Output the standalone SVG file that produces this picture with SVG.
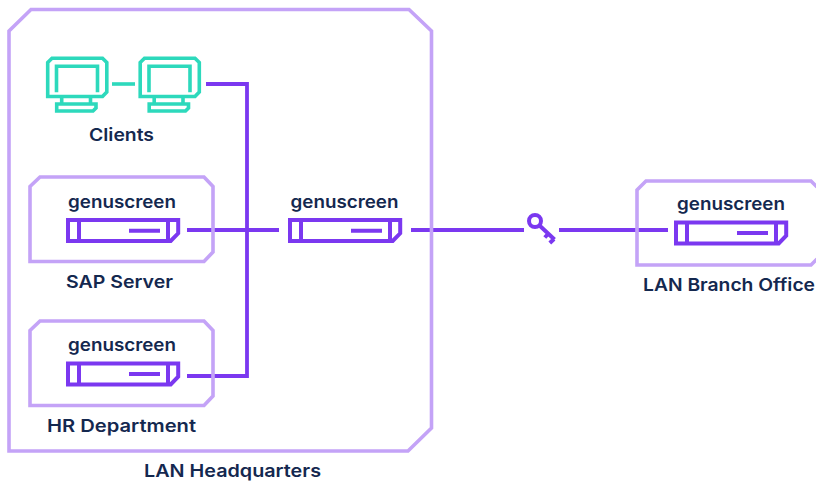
<svg xmlns="http://www.w3.org/2000/svg" xmlns:xlink="http://www.w3.org/1999/xlink" width="816" height="484" viewBox="0 0 816 484">
<style>
text{font-family:"Inter","Liberation Sans",sans-serif;font-weight:600;fill:#14284f;font-size:17.5px;text-anchor:middle}
.box{fill:none;stroke:#c4a3f7;stroke-width:3.6}
.dev{fill:none;stroke:#7b38f0;stroke-width:4}
.link{fill:none;stroke:#7b38f0;stroke-width:3.8}
.mon{fill:none;stroke:#2dd9bc;stroke-width:3.6}
</style>
<defs>
<g id="device">
<path class="dev" d="M1.300 0.700H111.500V14L104 21.700H1.300Z"/>
<path class="dev" d="M12.300 0.700V21.700M101.300 0.700V21.700M62.300 11.400H93.300"/>
</g>
<g id="monitor">
<path class="mon" d="M1.700 6L6 1.700H56.500L60.800 6V35.500L56.500 40H1.700Z"/>
<path class="mon" d="M10.500 35.700V9.700H51.500V35.700"/>
<path class="mon" d="M15.700 40V47.500M44.500 40V47.500"/>
<path class="mon" d="M10.700 47.500H50V51.500L47 54.500H10.700Z"/>
</g>
</defs>
<rect width="816" height="484" fill="#fff"/>
<g id="connectors">
<path class="mon" d="M112 84H135"/>
<path class="link" d="M206 84H247V376H187"/>
<path class="link" d="M187 230H279"/>
<path class="link" d="M411 230H524"/>
<path class="link" d="M559 230H668"/>
</g>
<g id="hq"><path class="box" d="M31 9.500H409L431.500 31V428L408 451H9V31Z"/><text x="232.500" y="476.500" textLength="177" lengthAdjust="spacingAndGlyphs">LAN Headquarters</text></g>
<g id="clients">
<use xlink:href="#monitor" x="46" y="56.500"/>
<use xlink:href="#monitor" x="138.500" y="56.500"/>
<text x="121.500" y="140.500" textLength="65" lengthAdjust="spacingAndGlyphs">Clients</text>
</g>
<g id="sap"><path class="box" d="M40 177H204L213 186.500V252L204 261.500H30V186.500Z"/><text x="122" y="207.500" textLength="108" lengthAdjust="spacingAndGlyphs">genuscreen</text><use xlink:href="#device" x="66.700" y="219.300"/><text x="119.500" y="287.500" textLength="107" lengthAdjust="spacingAndGlyphs">SAP Server</text></g>
<g id="hr"><path class="box" d="M40 321H204L213 330.500V396L204 405.500H30V330.500Z"/><text x="122" y="351" textLength="108" lengthAdjust="spacingAndGlyphs">genuscreen</text><use xlink:href="#device" x="66.700" y="362.700"/><text x="121.500" y="431.500" textLength="149" lengthAdjust="spacingAndGlyphs">HR Department</text></g>
<g id="mid"><text x="344.500" y="207.500" textLength="108" lengthAdjust="spacingAndGlyphs">genuscreen</text><use xlink:href="#device" x="288.700" y="219.300"/></g>
<g id="key" fill="none" stroke="#7b38f0" stroke-width="4"><circle cx="535" cy="221" r="6"/><path d="M539.500 225.500L554.500 239.500M548.500 233.500L544.800 237.500M554 239L549.800 243"/></g>
<g id="branch"><path class="box" d="M817 187L811 181H646L637 190V265H811L817 259"/><text x="731" y="209.500" textLength="108" lengthAdjust="spacingAndGlyphs">genuscreen</text><use xlink:href="#device" x="674.700" y="221.700"/><text x="729" y="290.500" textLength="172" lengthAdjust="spacingAndGlyphs">LAN Branch Office</text></g>
</svg>
